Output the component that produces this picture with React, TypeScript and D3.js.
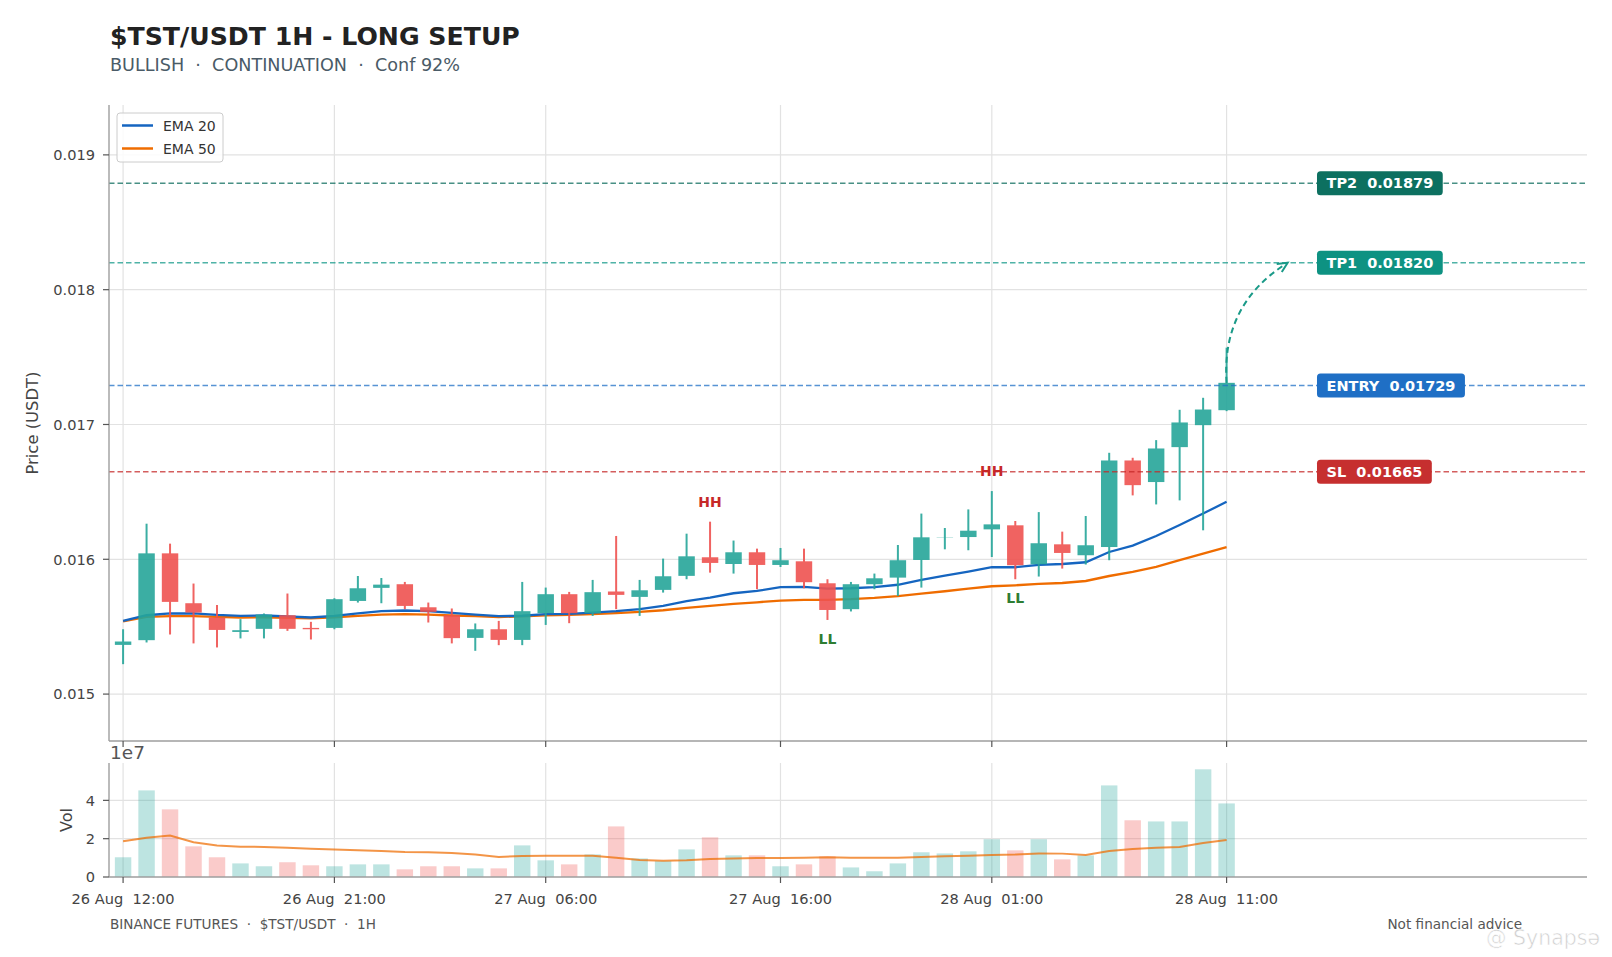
import { useLayoutEffect, useRef, useState } from "react";
import * as d3 from "d3";

const WIDTH = 1612;
const HEIGHT = 957;
const FONT = "'DejaVu Sans', Verdana, sans-serif";

// panel edges (px)
const PL = 109;
const PR = 1587;
const PT = 105;
const PB = 741;
const VT = 763;
const VB = 877;

const X_TICKS = [0, 9, 18, 28, 37, 47];
const X_TICK_LABELS = [
  "26 Aug  12:00",
  "26 Aug  21:00",
  "27 Aug  06:00",
  "27 Aug  16:00",
  "28 Aug  01:00",
  "28 Aug  11:00",
];
const PRICE_TICKS = [0.015, 0.016, 0.017, 0.018, 0.019];
const VOL_TICKS = [0, 2e7, 4e7];

const OPENS = [
  0.015365, 0.0154, 0.016044, 0.015674, 0.015568, 0.015461, 0.015484, 0.015585,
  0.015491, 0.015491, 0.015691, 0.015788, 0.015815, 0.015644, 0.015585, 0.015417,
  0.015481, 0.015402, 0.0156, 0.015741, 0.0156, 0.015761, 0.015721, 0.015773,
  0.015877, 0.016015, 0.015965, 0.016052, 0.015958, 0.015985, 0.015822, 0.01563,
  0.015815, 0.015864, 0.015995, 0.016163, 0.016165, 0.016222, 0.016252, 0.015963,
  0.016111, 0.01603, 0.016091, 0.016733, 0.016573, 0.016832, 0.016995, 0.017106,
];
const HIGHS = [
  0.015481, 0.016264, 0.016116, 0.01582, 0.015661, 0.015556, 0.015598, 0.015746,
  0.015536, 0.015711, 0.015876, 0.015861, 0.015832, 0.015679, 0.015635, 0.015524,
  0.015543, 0.015832, 0.01579, 0.015758, 0.015847, 0.016173, 0.015847, 0.016005,
  0.01619, 0.016279, 0.016139, 0.016079, 0.016084, 0.016079, 0.015852, 0.015832,
  0.015894, 0.016106, 0.016339, 0.016232, 0.01637, 0.016506, 0.016284, 0.01635,
  0.016205, 0.016321, 0.01679, 0.016753, 0.016884, 0.017109, 0.017198, 0.01757,
];
const LOWS = [
  0.015222, 0.015383, 0.015442, 0.015376, 0.015346, 0.015413, 0.015413, 0.015469,
  0.015405, 0.015481, 0.015679, 0.015674, 0.01563, 0.015531, 0.015376, 0.015321,
  0.015363, 0.015363, 0.015513, 0.015526, 0.01558, 0.01563, 0.01558, 0.015753,
  0.015852, 0.015901, 0.015894, 0.015778, 0.015943, 0.015785, 0.01555, 0.015613,
  0.015778, 0.015728, 0.01579, 0.016074, 0.016067, 0.016017, 0.015852, 0.015872,
  0.015931, 0.015961, 0.015993, 0.016474, 0.016407, 0.016437, 0.016215, 0.017099,
];
const CLOSES = [
  0.01539, 0.016044, 0.015684, 0.015605, 0.015476, 0.015474, 0.01559, 0.015484,
  0.015481, 0.015704, 0.015785, 0.015812, 0.015654, 0.01561, 0.015415, 0.015481,
  0.015402, 0.015615, 0.015741, 0.0156, 0.015756, 0.015736, 0.01577, 0.015874,
  0.016022, 0.015973, 0.016052, 0.015958, 0.015993, 0.01583, 0.015624, 0.015815,
  0.015859, 0.015993, 0.016163, 0.016165, 0.016212, 0.016259, 0.015956, 0.016119,
  0.016047, 0.016104, 0.016733, 0.01655, 0.016822, 0.017015, 0.017111, 0.017309,
];
const EMA20 = [
  0.015543, 0.015585, 0.015598, 0.015598, 0.015587, 0.01558, 0.015583, 0.015576,
  0.015568, 0.01558, 0.015598, 0.015615, 0.01562, 0.015615, 0.015602, 0.01559,
  0.015578, 0.015581, 0.015593, 0.015595, 0.015605, 0.015615, 0.01563, 0.015654,
  0.015689, 0.015716, 0.015748, 0.015765, 0.015793, 0.015795, 0.015783, 0.015785,
  0.015794, 0.015811, 0.015847, 0.015879, 0.015909, 0.015941, 0.015941, 0.015958,
  0.015965, 0.015978, 0.016054, 0.016101, 0.016173, 0.016254, 0.016339, 0.016427,
];
const EMA50 = [
  0.015539, 0.015573, 0.015578, 0.015578, 0.015573, 0.015568, 0.01557, 0.015565,
  0.015561, 0.01557, 0.01558, 0.01559, 0.015593, 0.01559, 0.015583, 0.015578,
  0.015572, 0.015576, 0.015585, 0.015587, 0.015593, 0.0156, 0.01561, 0.015622,
  0.015639, 0.015654, 0.015669, 0.015681, 0.015694, 0.015699, 0.015699, 0.015704,
  0.015713, 0.015726, 0.015746, 0.015763, 0.015783, 0.0158, 0.015807, 0.015817,
  0.015824, 0.015839, 0.015876, 0.015906, 0.015943, 0.015993, 0.016042, 0.016091,
];
const VOLUMES = [
  1.03e7, 4.52e7, 3.53e7, 1.6e7, 1.03e7, 0.71e7, 0.56e7, 0.77e7,
  0.61e7, 0.56e7, 0.66e7, 0.66e7, 0.4e7, 0.56e7, 0.56e7, 0.45e7,
  0.45e7, 1.65e7, 0.87e7, 0.66e7, 1.18e7, 2.64e7, 0.97e7, 0.83e7,
  1.44e7, 2.07e7, 1.13e7, 1.13e7, 0.56e7, 0.66e7, 1.08e7, 0.5e7,
  0.3e7, 0.71e7, 1.29e7, 1.23e7, 1.34e7, 1.97e7, 1.39e7, 1.97e7,
  0.92e7, 1.13e7, 4.78e7, 2.96e7, 2.9e7, 2.9e7, 5.62e7, 3.84e7,
];
const VOL_MA = [
  1.86e7, 2.05e7, 2.16e7, 1.81e7, 1.65e7, 1.58e7, 1.57e7, 1.53e7,
  1.48e7, 1.43e7, 1.39e7, 1.36e7, 1.3e7, 1.29e7, 1.25e7, 1.17e7,
  1.04e7, 1.1e7, 1.11e7, 1.11e7, 1.11e7, 1.01e7, 0.89e7, 0.85e7,
  0.87e7, 0.94e7, 0.97e7, 0.99e7, 0.99e7, 1.01e7, 1.03e7, 1.01e7,
  1.01e7, 1.01e7, 1.04e7, 1.08e7, 1.11e7, 1.15e7, 1.17e7, 1.23e7,
  1.22e7, 1.15e7, 1.36e7, 1.46e7, 1.53e7, 1.57e7, 1.77e7, 1.93e7,
];

const LEVEL_NAMES = ["TP2", "TP1", "ENTRY", "SL"];
const LEVEL_VALUES = [0.01879, 0.0182, 0.01729, 0.01665];

const SWING_INDEX = [25, 30, 37, 38];
const SWING_KIND = ["HH", "LL", "HH", "LL"];

const UP = "#26a69a";
const DOWN = "#ef5350";
const LINE_COLORS = ["#0b6b5c", "#14998a", "#1f6fc6", "#c62828"];
const BOX_COLORS = ["#0d7060", "#0e9282", "#1f6fc5", "#c62f2f"];

function LevelTag({ x, y, text, fill }: { x: number; y: number; text: string; fill: string }) {
  const ref = useRef<SVGTextElement>(null);
  const [w, setW] = useState(text.length * 9);
  useLayoutEffect(() => {
    if (ref.current) setW(ref.current.getComputedTextLength());
  }, [text]);
  const pad = 9.5;
  return (
    <g>
      <rect x={x} y={y - 12} width={w + pad * 2} height={24} rx={3.5} fill={fill} />
      <text
        ref={ref}
        x={x + pad}
        y={y}
        dy="0.36em"
        fill="#fff"
        fontSize={14.5}
        fontWeight="bold"
        style={{ whiteSpace: "pre" }}
      >
        {text}
      </text>
    </g>
  );
}

export default function App() {
  const x = d3.scaleLinear().domain([-0.6, 62.35]).range([PL, PR]);
  const y = d3.scaleLinear().domain([0.014652, 0.01937]).range([PB, PT]);
  const yv = d3.scaleLinear().domain([0, 5.95e7]).range([VB, VT]);
  const bw = x(0.7) - x(0);

  const emaLine = d3
    .line<number>()
    .x((_, i) => x(i))
    .y((d) => y(d));
  const volLine = d3
    .line<number>()
    .x((_, i) => x(i))
    .y((d) => yv(d));

  // curved dashed arrow from last close to TP1 (arc3, rad -0.3)
  const last = CLOSES.length - 1;
  const p0 = [x(last), y(CLOSES[last])];
  const p2 = [x(last + 2.6), y(LEVEL_VALUES[1])];
  const rad = -0.3;
  const mx = (p0[0] + p2[0]) / 2;
  const my = (p0[1] + p2[1]) / 2;
  const dx = p2[0] - p0[0];
  const dyUp = p0[1] - p2[1];
  const c = [mx + rad * dyUp, my + rad * dx];
  const ang = Math.atan2(p2[1] - c[1], p2[0] - c[0]);
  const head = 11;
  const spread = 0.45;
  const h1 = [p2[0] - head * Math.cos(ang - spread), p2[1] - head * Math.sin(ang - spread)];
  const h2 = [p2[0] - head * Math.cos(ang + spread), p2[1] - head * Math.sin(ang + spread)];

  const tagX = x(50.85);

  return (
    <div style={{ position: "absolute", left: 0, top: 0 }}>
      <svg width={WIDTH} height={HEIGHT} fontFamily={FONT} style={{ display: "block", background: "#fff" }}>
        {/* titles */}
        <text x={110} y={45} fontSize={25.2} fontWeight="bold" fill="#222">
          $TST/USDT 1H - LONG SETUP
        </text>
        <text x={110} y={71} fontSize={17.6} fill="#4a5b67" style={{ whiteSpace: "pre" }}>
          {"BULLISH  ·  CONTINUATION  ·  Conf 92%"}
        </text>

        {/* price grid */}
        {PRICE_TICKS.map((t) => (
          <line key={t} x1={PL} x2={PR} y1={y(t)} y2={y(t)} stroke="#e2e2e2" strokeWidth={1.2} />
        ))}
        {X_TICKS.map((t) => (
          <line key={t} x1={x(t)} x2={x(t)} y1={PT} y2={PB} stroke="#e2e2e2" strokeWidth={1.2} />
        ))}

        {/* EMAs */}
        <path d={emaLine(EMA50) ?? ""} fill="none" stroke="#ef6c00" strokeWidth={2.3} />
        <path d={emaLine(EMA20) ?? ""} fill="none" stroke="#1565c0" strokeWidth={2.3} />

        {/* candles */}
        {OPENS.map((o, i) => {
          const cl = CLOSES[i];
          const col = cl >= o ? UP : DOWN;
          const top = y(Math.max(o, cl));
          const bot = y(Math.min(o, cl));
          return (
            <g key={i} opacity={0.9}>
              <line x1={x(i)} x2={x(i)} y1={y(HIGHS[i])} y2={y(LOWS[i])} stroke={col} strokeWidth={2} />
              <rect x={x(i) - bw / 2} y={top} width={bw} height={Math.max(bot - top, 0)} fill={col} />
            </g>
          );
        })}

        {/* levels */}
        {LEVEL_VALUES.map((v, i) => (
          <line
            key={v}
            x1={PL}
            x2={PR}
            y1={y(v)}
            y2={y(v)}
            stroke={LINE_COLORS[i]}
            strokeOpacity={0.75}
            strokeWidth={1.5}
            strokeDasharray="5.5 3"
          />
        ))}

        {/* swing labels */}
        {SWING_INDEX.map((idx, i) => {
          const hh = SWING_KIND[i] === "HH";
          return (
            <text
              key={i}
              x={x(idx)}
              y={hh ? y(HIGHS[idx]) - 20 : y(LOWS[idx]) + 19}
              dy="0.36em"
              textAnchor="middle"
              fontSize={14}
              fontWeight="bold"
              fill={hh ? "#c62828" : "#2e7d32"}
            >
              {SWING_KIND[i]}
            </text>
          );
        })}

        {/* arrow */}
        <path
          d={`M${p0[0]},${p0[1]} Q${c[0]},${c[1]} ${p2[0]},${p2[1]}`}
          fill="none"
          stroke="#1a9a88"
          strokeWidth={2}
          strokeDasharray="6 4"
        />
        <path
          d={`M${h1[0]},${h1[1]} L${p2[0]},${p2[1]} L${h2[0]},${h2[1]}`}
          fill="none"
          stroke="#1a9a88"
          strokeWidth={2}
        />

        {/* level tags */}
        {LEVEL_VALUES.map((v, i) => (
          <LevelTag
            key={v}
            x={tagX}
            y={y(v)}
            fill={BOX_COLORS[i]}
            text={`${LEVEL_NAMES[i]}  ${v.toFixed(5)}`}
          />
        ))}

        {/* legend */}
        <rect x={117} y={113} width={106} height={49} rx={3} fill="#fff" fillOpacity={0.85} stroke="#cccccc" />
        <line x1={122} x2={153} y1={125.5} y2={125.5} stroke="#1565c0" strokeWidth={2.5} />
        <line x1={122} x2={153} y1={148.5} y2={148.5} stroke="#ef6c00" strokeWidth={2.5} />
        <text x={163} y={125.5} dy="0.36em" fontSize={14} fill="#333">EMA 20</text>
        <text x={163} y={148.5} dy="0.36em" fontSize={14} fill="#333">EMA 50</text>

        {/* price axis */}
        <line x1={PL} x2={PL} y1={PT} y2={PB} stroke="#9e9e9e" strokeWidth={1.4} />
        <line x1={PL} x2={PR} y1={PB} y2={PB} stroke="#9e9e9e" strokeWidth={1.4} />
        {PRICE_TICKS.map((t) => (
          <g key={t}>
            <line x1={PL - 6} x2={PL} y1={y(t)} y2={y(t)} stroke="#555" strokeWidth={1.2} />
            <text x={PL - 14} y={y(t)} dy="0.36em" textAnchor="end" fontSize={14.6} fill="#444">
              {d3.format(".3f")(t)}
            </text>
          </g>
        ))}
        {X_TICKS.map((t) => (
          <line key={t} x1={x(t)} x2={x(t)} y1={PB} y2={PB + 6} stroke="#555" strokeWidth={1.2} />
        ))}
        <text
          transform={`translate(38,${(PT + PB) / 2}) rotate(-90)`}
          textAnchor="middle"
          fontSize={16.4}
          fill="#444"
        >
          Price (USDT)
        </text>

        {/* volume grid */}
        {VOL_TICKS.slice(1).map((t) => (
          <line key={t} x1={PL} x2={PR} y1={yv(t)} y2={yv(t)} stroke="#e2e2e2" strokeWidth={1.2} />
        ))}
        {X_TICKS.map((t) => (
          <line key={t} x1={x(t)} x2={x(t)} y1={VT} y2={VB} stroke="#e2e2e2" strokeWidth={1.2} />
        ))}

        {/* volume bars */}
        {VOLUMES.map((v, i) => (
          <rect
            key={i}
            x={x(i) - bw / 2}
            y={yv(v)}
            width={bw}
            height={yv(0) - yv(v)}
            fill={CLOSES[i] >= OPENS[i] ? UP : DOWN}
            fillOpacity={0.3}
          />
        ))}
        <path d={volLine(VOL_MA) ?? ""} fill="none" stroke="#ef6c00" strokeOpacity={0.72} strokeWidth={2} />

        {/* volume axis */}
        <line x1={PL} x2={PL} y1={VT} y2={VB} stroke="#9e9e9e" strokeWidth={1.4} />
        <line x1={PL} x2={PR} y1={VB} y2={VB} stroke="#9e9e9e" strokeWidth={1.4} />
        {VOL_TICKS.map((t) => (
          <g key={t}>
            <line x1={PL - 6} x2={PL} y1={yv(t)} y2={yv(t)} stroke="#555" strokeWidth={1.2} />
            <text x={PL - 14} y={yv(t)} dy="0.36em" textAnchor="end" fontSize={14.6} fill="#444">
              {t / 1e7}
            </text>
          </g>
        ))}
        <text x={110} y={759} fontSize={18.5} fill="#555">1e7</text>
        <text
          transform={`translate(72,${(VT + VB) / 2}) rotate(-90)`}
          textAnchor="middle"
          fontSize={16}
          fill="#444"
        >
          Vol
        </text>
        {X_TICKS.map((t, i) => (
          <g key={t}>
            <line x1={x(t)} x2={x(t)} y1={VB} y2={VB + 6} stroke="#555" strokeWidth={1.2} />
            <text x={x(t)} y={904} textAnchor="middle" fontSize={14.6} fill="#444" style={{ whiteSpace: "pre" }}>
              {X_TICK_LABELS[i]}
            </text>
          </g>
        ))}

        {/* footer */}
        <text x={110} y={929} fontSize={13.6} fill="#555" style={{ whiteSpace: "pre" }}>
          {"BINANCE FUTURES  ·  $TST/USDT  ·  1H"}
        </text>
        <text x={1522} y={929} textAnchor="end" fontSize={13.6} fill="#555">
          Not financial advice
        </text>
        <text x={1486} y={945} fontSize={20.5} fill="#c8c8c8" fillOpacity={0.85} stroke="#fff" strokeWidth={0.6}>
          @ Synapsə
        </text>
      </svg>
    </div>
  );
}
